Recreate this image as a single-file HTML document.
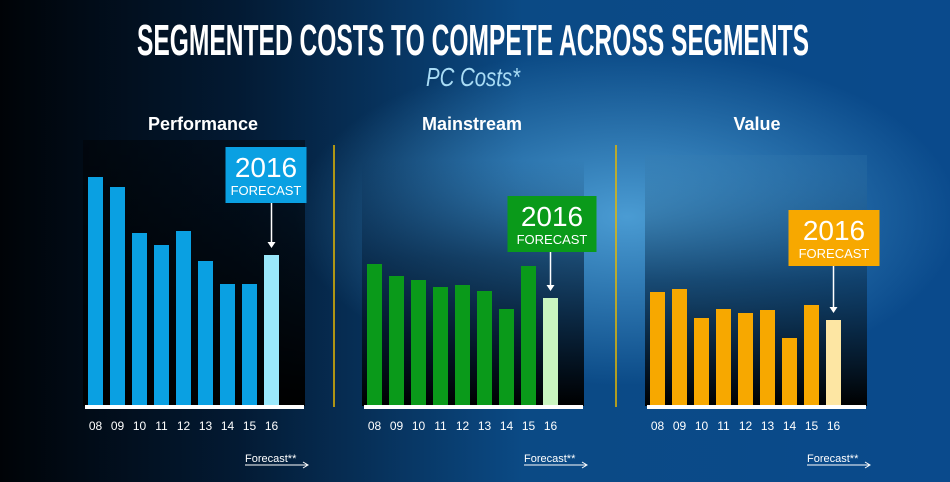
<!DOCTYPE html>
<html><head><meta charset="utf-8"><style>
html,body{margin:0;padding:0;width:950px;height:482px;overflow:hidden;background:#02101f}
svg{display:block}
text{font-family:"Liberation Sans",sans-serif}
</style></head><body>
<svg id="c" width="950" height="482" viewBox="0 0 950 482">
<defs>
<linearGradient id="bg" x1="0" y1="0" x2="1" y2="0">
<stop offset="0" stop-color="#000307"/><stop offset="0.25" stop-color="#031a33"/><stop offset="0.55" stop-color="#0b4a85"/><stop offset="1" stop-color="#0a4a8c"/></linearGradient>
<radialGradient id="glow" cx="0.66" cy="0.45" r="0.35"><stop offset="0" stop-color="#5ab0e6" stop-opacity="0.8"/><stop offset="1" stop-color="#5ab0e6" stop-opacity="0"/></radialGradient>
<linearGradient id="p1" x1="0" y1="0" x2="0" y2="1"><stop offset="0" stop-color="#000" stop-opacity="0.4"/><stop offset="1" stop-color="#000" stop-opacity="1"/></linearGradient>
<linearGradient id="p2" x1="0" y1="0" x2="0" y2="1"><stop offset="0" stop-color="#0a2f55" stop-opacity="0"/><stop offset="0.4" stop-color="#06213d" stop-opacity="0.6"/><stop offset="1" stop-color="#000" stop-opacity="1"/></linearGradient>
<linearGradient id="p3" x1="0" y1="0" x2="0" y2="1"><stop offset="0" stop-color="#3a7fb0" stop-opacity="0.2"/><stop offset="0.5" stop-color="#0d3558" stop-opacity="0.7"/><stop offset="1" stop-color="#000" stop-opacity="1"/></linearGradient>
</defs>
<rect width="950" height="482" fill="url(#bg)"/>
<rect width="950" height="482" fill="url(#glow)"/>
<text x="473" y="55" text-anchor="middle" font-size="44" font-weight="bold" fill="#fff" textLength="672" lengthAdjust="spacingAndGlyphs">SEGMENTED COSTS TO COMPETE ACROSS SEGMENTS</text>
<text x="473" y="86" text-anchor="middle" font-size="26" font-style="italic" fill="#a9dcf5" textLength="94" lengthAdjust="spacingAndGlyphs">PC Costs*</text>
<line x1="334" y1="145" x2="334" y2="407" stroke="#e6b800" stroke-width="1.5"/>
<line x1="616" y1="145" x2="616" y2="407" stroke="#e6b800" stroke-width="1.5"/>
<g id="panels"></g>
</svg>
<script>
const years = ["08","09","10","11","12","13","14","15","16"];
const perfValues = [229,219,173,161,175,145,122,122,151];
const mainValues = [142,130,126,119,121,115,97,140,108];
const valueValues = [114,117,88,97,93,96,68,101,86];
const panelTitles = ["Performance","Mainstream","Value"];
const forecastLabel = "2016";

const NS="http://www.w3.org/2000/svg";
const g=document.getElementById('panels');
function mk(tag,attrs,parent){const e=document.createElementNS(NS,tag);for(const k in attrs)e.setAttribute(k,attrs[k]);(parent||g).appendChild(e);return e;}
const baseY=406;
function yScale(v){return baseY-v;}
const panels=[
 {vals:perfValues,x0:85,bg:"url(#p1)",bgTop:140,bar:"#0aa0e2",fc:"#9ae8fb",box:"#0aa0e2",boxY:147,bw:81,boff:46,tx:203,name:"performance"},
 {vals:mainValues,x0:364,bg:"url(#p2)",bgTop:160,bar:"#0a9a1a",fc:"#c9f5c0",box:"#0a9a1a",boxY:196,bw:89,boff:43,tx:472,name:"mainstream"},
 {vals:valueValues,x0:647,bg:"url(#p3)",bgTop:155,bar:"#f7a800",fc:"#fde6a3",box:"#f7a800",boxY:210,bw:91,boff:45,tx:757,name:"value"}
];
panels.forEach((p,pi)=>{
 const pg=mk('g',{});
 
 
 const bgr=mk('rect',{x:p.x0-2,y:p.bgTop,width:222,height:baseY-p.bgTop,fill:p.bg},pg);
 
 
 const t=mk('text',{x:p.tx,y:130,'text-anchor':'middle','font-size':18,'font-weight':'bold',fill:'#fff'},pg);
 t.textContent=panelTitles[pi];
 
 
 const step=22, bw=15;
 p.vals.forEach((v,i)=>{
  const x=p.x0+3+i*step;
  const r=mk('rect',{x:x,y:yScale(v),width:bw,height:v,fill:i===p.vals.length-1?p.fc:p.bar},pg);
  
  
  const l=mk('text',{x:x+bw/2,y:430,'text-anchor':'middle','font-size':12,fill:'#fff'},pg);
  l.textContent=years[i];
  
  
 });
 const ax=mk('rect',{x:p.x0,y:405,width:219,height:4,fill:'#fff'},pg);
 
 
 const last=p.vals.length-1, bx=p.x0+3+last*step+bw/2;
 const boxX=bx-p.boff;
 const box=mk('rect',{x:boxX,y:p.boxY,width:p.bw,height:56,fill:p.box},pg);
 
 
 const t1=mk('text',{x:boxX+p.bw/2,y:p.boxY+30,'text-anchor':'middle','font-size':28,fill:'#fff'},pg);
 t1.textContent=forecastLabel;
 
 
 const t2=mk('text',{x:boxX+p.bw/2,y:p.boxY+48,'text-anchor':'middle','font-size':13,fill:'#fff'},pg);
 t2.textContent="FORECAST";
 
 
 const tip=yScale(p.vals[last])-7;
 const ar=mk('line',{x1:bx,y1:p.boxY+56,x2:bx,y2:tip-4,stroke:'#fff','stroke-width':1.5},pg);
 
 
 const ah=mk('path',{d:`M${bx-4},${tip-6} L${bx+4},${tip-6} L${bx},${tip} Z`,fill:'#fff'},pg);
 
 
 const fx=p.x0+160;
 const ft=mk('text',{x:fx,y:462,'font-size':11,fill:'#fff'},pg);
 ft.textContent="Forecast**";
 
 
 const fl=mk('path',{d:`M${fx},465 L${fx+62},465 M${fx+58},462 L${fx+63},465 L${fx+58},468`,stroke:'#fff','stroke-width':1,fill:'none'},pg);
 
 
});
</script>
</body></html>
